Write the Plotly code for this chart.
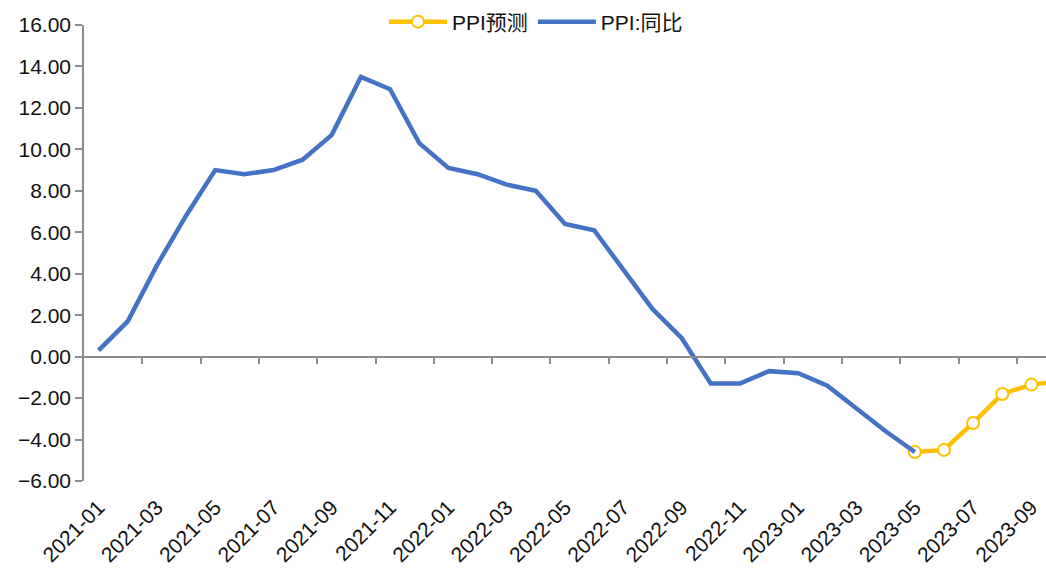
import plotly.graph_objects as go

months = [
    "2021-01", "2021-02", "2021-03", "2021-04", "2021-05", "2021-06",
    "2021-07", "2021-08", "2021-09", "2021-10", "2021-11", "2021-12",
    "2022-01", "2022-02", "2022-03", "2022-04", "2022-05", "2022-06",
    "2022-07", "2022-08", "2022-09", "2022-10", "2022-11", "2022-12",
    "2023-01", "2023-02", "2023-03", "2023-04", "2023-05", "2023-06",
    "2023-07", "2023-08", "2023-09", "2023-10",
]

ppi_yoy = [
    0.3, 1.7, 4.4, 6.8, 9.0, 8.8, 9.0, 9.5, 10.7, 13.5, 12.9, 10.3,
    9.1, 8.8, 8.3, 8.0, 6.4, 6.1, 4.2, 2.3, 0.9, -1.3, -1.3, -0.7,
    -0.8, -1.4, -2.5, -3.6, -4.6,
]

forecast_months = ["2023-05", "2023-06", "2023-07", "2023-08", "2023-09", "2023-10"]
ppi_forecast = [-4.6, -4.5, -3.2, -1.8, -1.35, -1.2]

label_months = months[0:33:2]

idx = {m: i for i, m in enumerate(months)}
x_yoy = [idx[m] for m in months[:len(ppi_yoy)]]
x_fc = [idx[m] for m in forecast_months]
label_pos = [idx[m] for m in label_months]
tick_pos = [p + 1.5 for p in label_pos[:-1]]

FONT = "Liberation Sans, Noto Sans CJK SC, sans-serif"
AXIS_GRAY = "#8c8c8c"
TXT = "#111111"

fig = go.Figure()
fig.add_trace(go.Scatter(
    x=x_fc, y=ppi_forecast, name="PPI预测", mode="lines+markers",
    line=dict(color="#FFC000", width=4.5),
    marker=dict(symbol="circle", size=12, color="white",
                line=dict(color="#FFC000", width=2)),
))
fig.add_trace(go.Scatter(
    x=x_yoy, y=ppi_yoy, name="PPI:同比", mode="lines",
    line=dict(color="#4472C4", width=4.5),
))
fig.add_trace(go.Scatter(
    x=[], y=[], xaxis="x2", showlegend=False, hoverinfo="skip",
))

xr = [-0.5, 32.5]
fig.update_layout(
    width=1046, height=571,
    margin=dict(l=84, r=0, t=25, b=90, autoexpand=False),
    paper_bgcolor="white", plot_bgcolor="white",
    font=dict(family=FONT, size=21, color=TXT),
    showlegend=True,
    legend=dict(orientation="h", xref="container", x=536 / 1046, xanchor="center",
                yref="container", y=1 - 22 / 571, yanchor="middle",
                font=dict(size=21, color=TXT), itemwidth=58,
                bgcolor="rgba(0,0,0,0)", traceorder="normal"),
    xaxis=dict(
        range=xr, tickmode="array", tickvals=label_pos, ticktext=label_months,
        tickangle=-45, showline=False, showgrid=False, zeroline=False,
        ticks="", tickfont=dict(size=21, color=TXT), automargin=False,
        ticklabelstandoff=9,
    ),
    xaxis2=dict(
        range=xr, overlaying="x", anchor="free", position=6 / 22,
        side="bottom", showline=True, linecolor=AXIS_GRAY, linewidth=1.5,
        tickmode="array", tickvals=tick_pos, ticks="outside", ticklen=7,
        tickwidth=1.5, tickcolor=AXIS_GRAY, showticklabels=False,
        showgrid=False, zeroline=False, automargin=False,
    ),
    yaxis=dict(
        range=[-6, 16], dtick=2, tick0=0, tickformat=".2f",
        showline=True, linecolor=AXIS_GRAY, linewidth=1.5,
        ticks="outside", ticklen=7, tickwidth=1.5, tickcolor=AXIS_GRAY,
        showgrid=False, zeroline=False, tickfont=dict(size=21, color=TXT),
        automargin=False,
    ),
)

fig.write_html(
    "out.html",
    config={"displayModeBar": False},
    post_script="document.body.style.margin='0';document.body.style.padding='0';",
)
